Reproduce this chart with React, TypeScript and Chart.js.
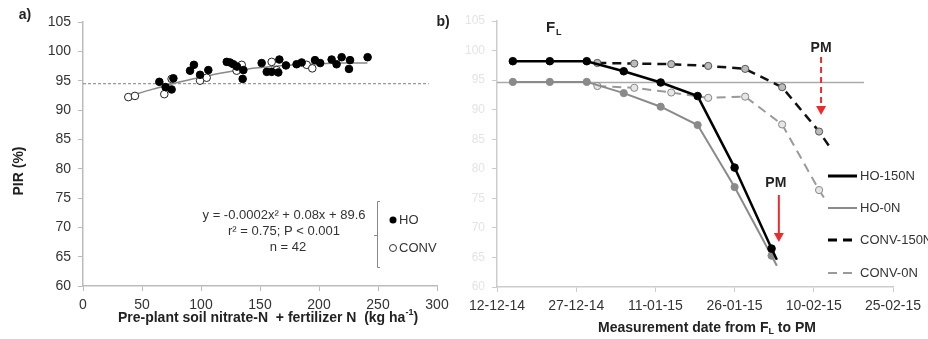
import React, { useEffect, useRef } from "react";
import { Chart, registerables } from "chart.js";
Chart.register(...registerables);

const FONT = "'Liberation Sans', Arial, Helvetica, sans-serif";

// ---------- Panel a data ----------
const hoN = [64.7, 70, 75.1, 76.6, 90.7, 94, 99.2, 106.2, 121.8, 124.6, 127.4, 130.5, 135.9, 135.3, 151.4, 155.7, 159.9, 166.4, 165.5, 172, 181, 185.3, 196.6, 201, 210.7, 214.9, 219.2, 226.3, 225.4, 241.2];
const hoPIR = [94.8, 93.9, 93.5, 95.4, 96.7, 97.7, 96.0, 96.8, 98.2, 98.1, 97.8, 97.4, 96.8, 95.3, 98.0, 96.5, 96.5, 98.6, 96.4, 97.6, 97.8, 98.1, 98.5, 98.0, 98.6, 97.8, 99.0, 98.5, 97.0, 99.0];
const convN = [38.4, 44, 68.9, 75.1, 99.2, 104.8, 130.2, 134.5, 159.9, 164.1, 189.6, 194.3];
const convPIR = [92.2, 92.4, 92.7, 95.3, 95.0, 95.5, 96.7, 97.7, 98.2, 96.8, 97.7, 97.1];
const trendN = [38, 60, 80, 100, 120, 140, 160, 180, 200, 220, 241];
const trendPIR = [92.3, 93.6, 94.7, 95.6, 96.4, 97.0, 97.4, 97.7, 97.9, 98.0, 98.0];
const refPIR = 94.5;
const refNRange = [0, 293];

// ---------- Panel b data ----------
const START = "2014-12-12";
const bTickLabels = ["12-12-14", "27-12-14", "11-01-15", "26-01-15", "10-02-15", "25-02-15"];
const ho150Dates = ["2014-12-15", "2014-12-22", "2014-12-29", "2015-01-05", "2015-01-12", "2015-01-19", "2015-01-26", "2015-02-02", "2015-02-03"];
const ho150 = [98.2, 98.2, 98.2, 96.5, 94.6, 92.3, 80.2, 66.5, 64.6];
const ho0Dates = ["2014-12-15", "2014-12-22", "2014-12-29", "2015-01-05", "2015-01-12", "2015-01-19", "2015-01-26", "2015-02-02", "2015-02-03"];
const ho0 = [94.7, 94.7, 94.7, 92.8, 90.5, 87.4, 76.9, 65.3, 63.6];
const conv150Dates = ["2014-12-31", "2015-01-07", "2015-01-14", "2015-01-21", "2015-01-28", "2015-02-04", "2015-02-11", "2015-02-13"];
const conv150 = [97.9, 97.8, 97.7, 97.4, 96.9, 93.8, 86.3, 83.7];
const conv0Dates = ["2014-12-31", "2015-01-07", "2015-01-14", "2015-01-21", "2015-01-28", "2015-02-04", "2015-02-11", "2015-02-12"];
const conv0 = [94.0, 93.7, 92.9, 92.0, 92.2, 87.5, 76.4, 75.0];
const refB = 94.6;
const refBRange = [0, 69.5];
const pmConvDate = "2015-02-11";
const pmHoDate = "2015-02-03";

const DAY = 86400000;
const dayOf = (d: string) => (Date.parse(d) - Date.parse(START)) / DAY;
const pts = (xs: number[], ys: number[]) => xs.map((x, i) => ({ x, y: ys[i] }));
const dpts = (ds: string[], ys: number[]) => ds.map((d, i) => ({ x: dayOf(d), y: ys[i] }));
const tailRadius = (n: number, r: number) => Array.from({ length: n }, (_, i) => (i === n - 1 ? 0 : r));

function drawArrow(ctx: CanvasRenderingContext2D, x: number, y1: number, y2: number, dashed: boolean) {
  ctx.save();
  ctx.strokeStyle = "#ee2a2a";
  ctx.fillStyle = "#ee2a2a";
  ctx.lineWidth = 2;
  if (dashed) ctx.setLineDash([6, 4]);
  ctx.beginPath();
  ctx.moveTo(x, y1);
  ctx.lineTo(x, y2 - 8);
  ctx.stroke();
  ctx.setLineDash([]);
  ctx.beginPath();
  ctx.moveTo(x - 5, y2 - 9);
  ctx.lineTo(x + 5, y2 - 9);
  ctx.lineTo(x, y2);
  ctx.closePath();
  ctx.fill();
  ctx.restore();
}

const plugA = {
  id: "annA",
  afterDraw(chart: any) {
    const ctx = chart.ctx as CanvasRenderingContext2D;
    ctx.save();
    ctx.fillStyle = "#222";
    ctx.textBaseline = "middle";
    ctx.font = `bold 14px ${FONT}`;
    ctx.textAlign = "center";
    ctx.fillText("a)", 25, 15);
    ctx.fillText("b)", 443, 22);
    ctx.save();
    ctx.translate(19, 171);
    ctx.rotate(-Math.PI / 2);
    ctx.fillText("PIR (%)", 0, 0);
    ctx.restore();
    const main = "Pre-plant soil nitrate-N  + fertilizer N  (kg ha";
    ctx.font = `bold 14px ${FONT}`;
    const wm = ctx.measureText(main).width;
    const we = ctx.measureText(")").width;
    ctx.font = `bold 9px ${FONT}`;
    const ws = ctx.measureText("-1").width;
    const x0 = 268 - (wm + ws + we) / 2;
    ctx.textAlign = "left";
    ctx.font = `bold 14px ${FONT}`;
    ctx.fillText(main, x0, 318);
    ctx.font = `bold 9px ${FONT}`;
    ctx.fillText("-1", x0 + wm, 313);
    ctx.font = `bold 14px ${FONT}`;
    ctx.fillText(")", x0 + wm + ws, 318);
    ctx.fillStyle = "#333";
    ctx.font = `13px ${FONT}`;
    ctx.textAlign = "center";
    ctx.fillText("y = -0.0002x² + 0.08x + 89.6", 284, 215);
    ctx.fillText("r² = 0.75; P < 0.001", 284, 231);
    ctx.fillText("n = 42", 288, 247);
    ctx.strokeStyle = "#888";
    ctx.lineWidth = 1;
    ctx.beginPath();
    ctx.moveTo(380, 201.5);
    ctx.lineTo(377.5, 201.5);
    ctx.lineTo(377.5, 267.5);
    ctx.lineTo(380, 267.5);
    ctx.moveTo(377.5, 235.5);
    ctx.lineTo(374, 235.5);
    ctx.stroke();
    ctx.beginPath();
    ctx.fillStyle = "#000";
    ctx.arc(393, 220, 3.5, 0, Math.PI * 2);
    ctx.fill();
    ctx.beginPath();
    ctx.fillStyle = "#fff";
    ctx.strokeStyle = "#333";
    ctx.arc(393, 248, 3.5, 0, Math.PI * 2);
    ctx.fill();
    ctx.stroke();
    ctx.fillStyle = "#333";
    ctx.textAlign = "left";
    ctx.font = `13px ${FONT}`;
    ctx.fillText("HO", 399, 220);
    ctx.fillText("CONV", 399, 248);
    ctx.restore();
  },
};

const plugB = {
  id: "annB",
  afterDraw(chart: any) {
    const ctx = chart.ctx as CanvasRenderingContext2D;
    const xs = chart.scales.x;
    ctx.save();
    ctx.fillStyle = "#222";
    ctx.textBaseline = "middle";
    ctx.textAlign = "left";
    ctx.font = `bold 15px ${FONT}`;
    ctx.fillText("F", 86, 28);
    ctx.font = `bold 9px ${FONT}`;
    ctx.fillText("L", 96, 33);
    const a = "Measurement date from F";
    const b = " to PM";
    ctx.font = `bold 14px ${FONT}`;
    const wa = ctx.measureText(a).width;
    const wb = ctx.measureText(b).width;
    ctx.font = `bold 9px ${FONT}`;
    const wl = ctx.measureText("L").width;
    const x0 = 247 - (wa + wl + wb) / 2;
    ctx.font = `bold 14px ${FONT}`;
    ctx.fillText(a, x0, 328);
    ctx.font = `bold 9px ${FONT}`;
    ctx.fillText("L", x0 + wa, 332);
    ctx.font = `bold 14px ${FONT}`;
    ctx.fillText(b, x0 + wa + wl, 328);
    const px1 = xs.getPixelForValue(dayOf(pmConvDate)) + 2;
    const px2 = xs.getPixelForValue(dayOf(pmHoDate)) + 2;
    ctx.textAlign = "center";
    ctx.font = `bold 14px ${FONT}`;
    ctx.fillText("PM", px1, 48);
    ctx.fillText("PM", px2 - 3, 183);
    drawArrow(ctx, px1, 57, 115, true);
    drawArrow(ctx, px2, 195, 242, false);
    const items = [
      { t: "HO-150N", c: "#000", w: 3, d: [] as number[], y: 176 },
      { t: "HO-0N", c: "#8a8a8a", w: 2, d: [] as number[], y: 208 },
      { t: "CONV-150N", c: "#000", w: 3, d: [9, 6], y: 240 },
      { t: "CONV-0N", c: "#9a9a9a", w: 2, d: [9, 6], y: 273 },
    ];
    ctx.textAlign = "left";
    ctx.font = `13px ${FONT}`;
    for (const it of items) {
      ctx.strokeStyle = it.c;
      ctx.lineWidth = it.w;
      ctx.setLineDash(it.d);
      ctx.beginPath();
      ctx.moveTo(368, it.y);
      ctx.lineTo(397, it.y);
      ctx.stroke();
      ctx.setLineDash([]);
      ctx.fillStyle = "#333";
      ctx.fillText(it.t, 400, it.y);
    }
    ctx.restore();
  },
};

const tickFont = { family: FONT, size: 14 };

function PanelA() {
  const ref = useRef<HTMLCanvasElement>(null);
  useEffect(() => {
    const chart = new Chart(ref.current!, {
      type: "scatter",
      data: {
        datasets: [
          { data: pts(hoN, hoPIR), backgroundColor: "#000", borderColor: "#000", pointRadius: 3.8, borderWidth: 1, order: 0 },
          { data: pts(convN, convPIR), backgroundColor: "#fff", borderColor: "#222", pointRadius: 3.8, borderWidth: 1, order: 0 },
          { type: "line", data: pts(trendN, trendPIR), borderColor: "#888", borderWidth: 1.5, pointRadius: 0, tension: 0.4, cubicInterpolationMode: "monotone", showLine: true, order: 1 } as any,
          { type: "line", data: pts(refNRange, [refPIR, refPIR]), borderColor: "#999", borderWidth: 1.2, borderDash: [3, 2], pointRadius: 0, showLine: true, order: 2 } as any,
        ],
      },
      options: {
        animation: false,
        responsive: false,
        events: [],
        layout: { padding: { top: 22, right: 23, bottom: 0, left: 0 } },
        plugins: { legend: { display: false }, tooltip: { enabled: false } },
        scales: {
          x: {
            type: "linear", min: 0, max: 300,
            ticks: { stepSize: 50, font: tickFont, color: "#333", padding: 6 },
            grid: { drawOnChartArea: false, tickLength: 5, color: "#bbb" },
            border: { color: "#bbb", width: 1.5 },
            afterFit: (s: any) => { s.height = 53; },
          },
          y: {
            type: "linear", min: 60, max: 105,
            ticks: { stepSize: 5, font: tickFont, color: "#333", padding: 7 },
            grid: { drawOnChartArea: false, tickLength: 5, color: "#bbb" },
            border: { color: "#bbb", width: 1.5 },
            afterFit: (s: any) => { s.width = 83; },
          },
        },
      },
      plugins: [plugA],
    } as any);
    return () => chart.destroy();
  }, []);
  return <canvas ref={ref} width={460} height={339} style={{ position: "absolute", left: 0, top: 0 }} />;
}

function PanelB() {
  const ref = useRef<HTMLCanvasElement>(null);
  useEffect(() => {
    const chart = new Chart(ref.current!, {
      type: "line",
      data: {
        datasets: [
          { data: dpts(ho150Dates, ho150), borderColor: "#000", backgroundColor: "#000", borderWidth: 2.5, pointRadius: tailRadius(ho150.length, 3.8), pointBorderWidth: 1, order: 0 },
          { data: dpts(ho0Dates, ho0), borderColor: "#8a8a8a", backgroundColor: "#8a8a8a", borderWidth: 2, pointRadius: tailRadius(ho0.length, 3.6), pointBorderWidth: 1, order: 1 },
          { data: dpts(conv150Dates, conv150), borderColor: "#111", backgroundColor: "#bbb", pointBorderColor: "#555", borderWidth: 2.5, borderDash: [9, 6], pointRadius: tailRadius(conv150.length, 3.6), pointBorderWidth: 1, order: 2 },
          { data: dpts(conv0Dates, conv0), borderColor: "#999", backgroundColor: "#e6e6e6", pointBorderColor: "#888", borderWidth: 2, borderDash: [9, 6], pointRadius: tailRadius(conv0.length, 3.6), pointBorderWidth: 1, order: 3 },
          { data: pts(refBRange, [refB, refB]), borderColor: "#aaa", borderWidth: 1.5, pointRadius: 0, order: 4 },
        ],
      },
      options: {
        animation: false,
        responsive: false,
        events: [],
        layout: { padding: { top: 21, right: 35, bottom: 0, left: 0 } },
        plugins: { legend: { display: false }, tooltip: { enabled: false } },
        scales: {
          x: {
            type: "linear", min: 0, max: 75,
            ticks: { stepSize: 15, font: tickFont, color: "#333", padding: 6, maxRotation: 0, autoSkip: false, callback: (_v: any, i: number) => bTickLabels[i] },
            grid: { drawOnChartArea: false, tickLength: 5, color: "#ccc" },
            border: { color: "#ccc", width: 1.5 },
            afterFit: (s: any) => { s.height = 52; },
          },
          y: {
            type: "linear", min: 60, max: 105,
            ticks: { stepSize: 5, font: { family: FONT, size: 12 }, color: "#e4e4e4", padding: 7 },
            grid: { drawOnChartArea: false, tickLength: 5, color: "#ccc" },
            border: { color: "#ccc", width: 1.5 },
            afterFit: (s: any) => { s.width = 37; },
          },
        },
      },
      plugins: [plugB],
    } as any);
    return () => chart.destroy();
  }, []);
  return <canvas ref={ref} width={468} height={339} style={{ position: "absolute", left: 460, top: 0 }} />;
}

export default function App() {
  return (
    <div style={{ position: "fixed", left: 0, top: 0, width: 928, height: 339, background: "#fff", overflow: "hidden" }}>
      <PanelA />
      <PanelB />
    </div>
  );
}
